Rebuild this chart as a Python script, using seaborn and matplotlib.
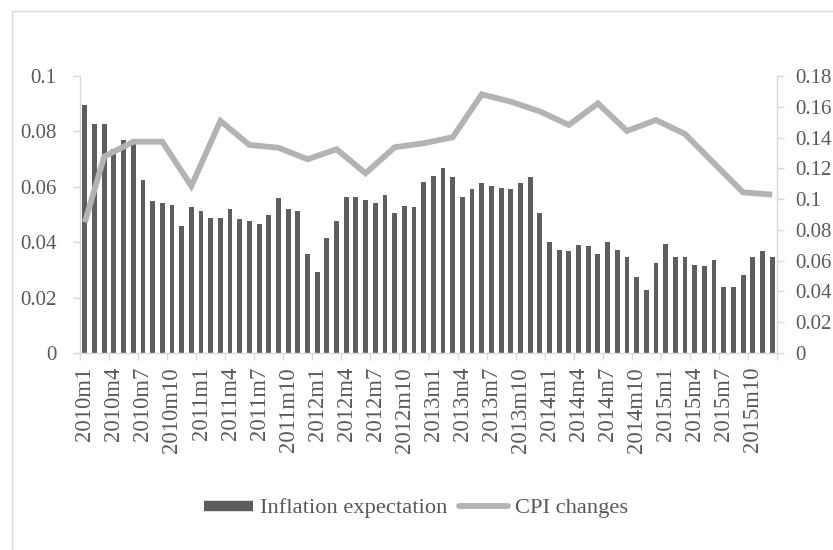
import numpy as np
import pandas as pd
import matplotlib
matplotlib.use("Agg")
import matplotlib.pyplot as plt
from matplotlib.lines import Line2D
from matplotlib.patches import Rectangle
import seaborn as sns

# ---- data ----
years = [2010, 2011, 2012, 2013, 2014, 2015]
months = [f"{y}m{m}" for y in years for m in range(1, 13)]

inflation_expectation = [
    0.0896, 0.0826, 0.0826, 0.0736, 0.0770, 0.0754, 0.0625, 0.0548, 0.0542, 0.0536, 0.0460, 0.0526,
    0.0514, 0.0488, 0.0488, 0.0520, 0.0482, 0.0476, 0.0466, 0.0499, 0.0559, 0.0520, 0.0514, 0.0359,
    0.0293, 0.0416, 0.0476, 0.0564, 0.0564, 0.0553, 0.0542, 0.0570, 0.0504, 0.0531, 0.0526, 0.0618,
    0.0639, 0.0667, 0.0634, 0.0564, 0.0591, 0.0613, 0.0602, 0.0596, 0.0591, 0.0613, 0.0634, 0.0504,
    0.0400, 0.0373, 0.0368, 0.0391, 0.0385, 0.0359, 0.0400, 0.0373, 0.0347, 0.0275, 0.0227, 0.0325,
    0.0394, 0.0347, 0.0347, 0.0319, 0.0314, 0.0336, 0.0237, 0.0237, 0.0281, 0.0347, 0.0368, 0.0347,
]

cpi_months = ["2010m1", "2010m3", "2010m6", "2010m9", "2010m12",
              "2011m3", "2011m6", "2011m9", "2011m12",
              "2012m3", "2012m6", "2012m9", "2012m12",
              "2013m3", "2013m6", "2013m9", "2013m12",
              "2014m3", "2014m6", "2014m9", "2014m12",
              "2015m3", "2015m6", "2015m9", "2015m12"]
cpi_changes = [0.0849, 0.1276, 0.1373, 0.1373, 0.1085,
               0.1508, 0.1352, 0.1334, 0.1259,
               0.1324, 0.1168, 0.1337, 0.1363,
               0.1402, 0.1681, 0.1633, 0.1570,
               0.1482, 0.1622, 0.1443, 0.1514,
               0.1423, 0.1233, 0.1044, 0.1029]

tick_labels = months[::3]

# ---- styling ----
sns.set_theme(style="white")
plt.rcParams["font.family"] = ["Liberation Serif", "DejaVu Serif"]
text_color = "#595959"
axis_color = "#d9d9d9"
bar_color = "#5e5e5e"
line_color = "#b3b3b3"
fs = 15

fig = plt.figure(figsize=(8.33, 5.5), dpi=100)
ax = fig.add_axes([80 / 833, (550 - 353) / 550, (777 - 80) / 833, (353 - 76) / 550])

bar_df = pd.DataFrame({"month": months, "value": inflation_expectation})
sns.barplot(data=bar_df, x="month", y="value", order=months, color=bar_color,
            saturation=1, width=0.5, linewidth=0, ax=ax)

ax2 = ax.twinx()
idx = {m: i for i, m in enumerate(months)}
line_df = pd.DataFrame({"pos": [idx[m] for m in cpi_months], "cpi": cpi_changes})
sns.lineplot(data=line_df, x="pos", y="cpi", color=line_color, linewidth=4.2,
             ax=ax2, solid_capstyle="butt", solid_joinstyle="miter")

# x axis
ax.set_xlim(-0.5, len(months) - 0.5)
ax.set_xticks(range(0, len(months), 3))
ax.set_xticklabels(tick_labels, rotation=90, fontsize=16.3, color=text_color)
ax.tick_params(axis="x", which="major", length=0, pad=10)
ax.set_xticks(np.arange(-0.5, len(months), 3), minor=True)
ax.tick_params(axis="x", which="minor", length=5, width=1, color=axis_color, direction="out", bottom=True)
ax.set_xlabel("")
ax.set_ylabel("")

# left y
ax.set_ylim(0, 0.1)
lt = np.round(np.arange(0, 0.1001, 0.02), 2)
ax.set_yticks(lt)
ax.set_yticklabels([f"{t:g}" for t in lt], fontsize=fs, color=text_color)
ax.tick_params(axis="y", length=5, width=1, color=axis_color, direction="out", pad=12, left=True)

# right y
ax2.set_ylim(0, 0.18)
rt = np.round(np.arange(0, 0.1801, 0.02), 2)
ax2.set_yticks(rt)
ax2.set_yticklabels([f"{t:g}" for t in rt], fontsize=fs, color=text_color)
ax2.tick_params(axis="y", length=5, width=1, color=axis_color, direction="out", pad=8, right=True)
ax2.set_xlabel("")
ax2.set_ylabel("")
ax2.set_xlim(-0.5, len(months) - 0.5)

for a in (ax, ax2):
    a.spines["top"].set_visible(False)
    for s in ("left", "right", "bottom"):
        a.spines[s].set_color(axis_color)
        a.spines[s].set_linewidth(1)
ax.spines["right"].set_visible(False)
ax2.spines["left"].set_visible(False)
ax2.spines["bottom"].set_visible(False)
ax.grid(False)
ax2.grid(False)

# legend
handles = [Line2D([], [], color=bar_color, lw=7.5, solid_capstyle="butt"),
           Line2D([], [], color=line_color, lw=4.2, solid_capstyle="round")]
leg = fig.legend(handles, ["Inflation expectation", "CPI changes"], loc="center",
                 bbox_to_anchor=(416 / 833, 1 - 508 / 550), ncol=2, frameon=False,
                 fontsize=16.2, handlelength=2.2, handletextpad=0.3, columnspacing=0.5)
for t in leg.get_texts():
    t.set_color(text_color)

# chart area border
fig.patches.append(Rectangle((12 / 833, -0.1), 1.2, 1 - 11 / 550 + 0.1,
                             transform=fig.transFigure, fill=False,
                             edgecolor=axis_color, linewidth=1))

fig.savefig("out.png", dpi=100)
